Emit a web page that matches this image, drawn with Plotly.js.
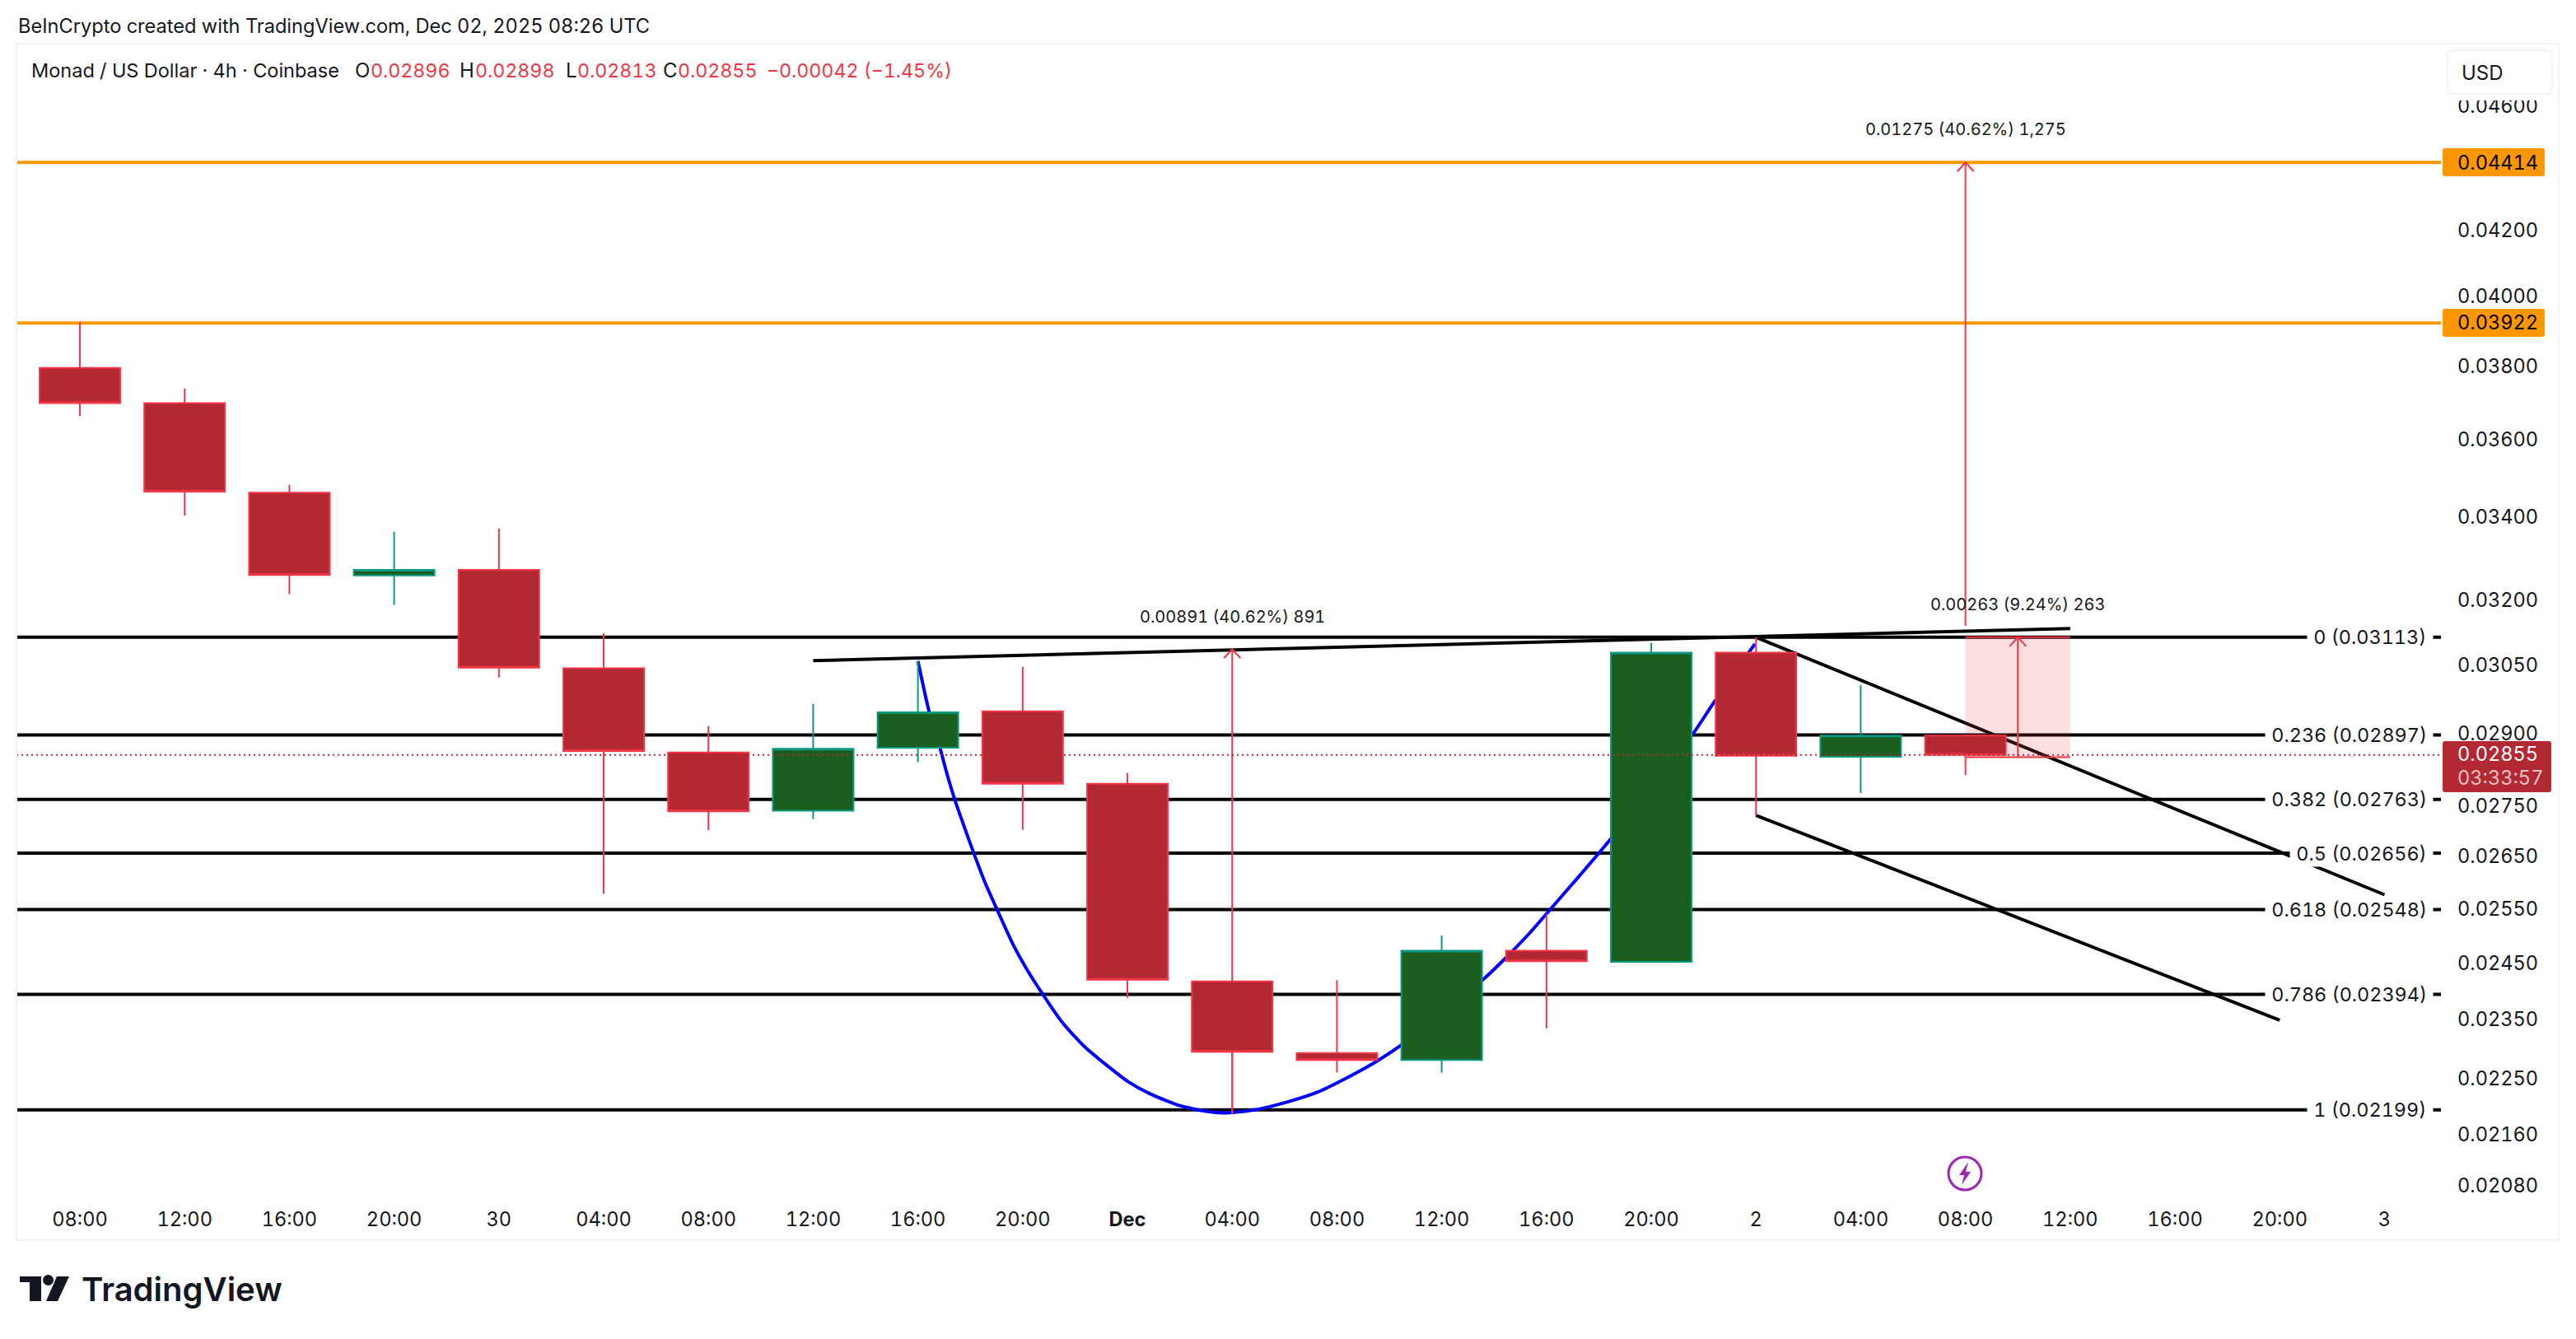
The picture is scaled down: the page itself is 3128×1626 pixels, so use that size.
<!DOCTYPE html>
<html><head><meta charset="utf-8">
<script src="https://cdn.plot.ly/plotly-3.0.1.min.js"></script>
<style>html,body{margin:0;padding:0;background:#fff}#c{width:3128px;height:1626px}svg text{font-variant-numeric:tabular-nums;font-feature-settings:"tnum"}</style>
</head><body><div id="c"></div>
<script>
// ---------- data ----------
const barIndex = [0,1,2,3,4,5,6,7,8,9,10,11,12,13,14,15,16,17,18];
const openP  = [.03795,.03698,.03462,.03258,.03271,.03043,.02860,.02740,.02870,.02948,.02795,.02417,.02293,.02281,.02472,.02452,.03078,.02851,.02896];
const highP  = [.03925,.03738,.03482,.03364,.03372,.03122,.02916,.02964,.03059,.03046,.02817,.02417,.02419,.02500,.02540,.03100,.03113,.03005,.02898];
const lowP   = [.03663,.03404,.03213,.03188,.03022,.02578,.02701,.02723,.02840,.02702,.02388,.02193,.02260,.02260,.02335,.02452,.02731,.02776,.02813];
const closeP = [.03698,.03465,.03259,.03271,.03044,.02863,.02739,.02868,.02946,.02795,.02420,.02295,.02281,.02472,.02453,.03078,.02853,.02896,.02855];

const timeTickIndex = [0,1,2,3,4,5,6,7,8,9,10,11,12,13,14,15,16,17,18,19,20,21,22];
const timeTickLabels = ['08:00','12:00','16:00','20:00','30','04:00','08:00','12:00','16:00','20:00','<b>Dec</b>','04:00','08:00','12:00','16:00','20:00','2','04:00','08:00','12:00','16:00','20:00','3'];
const priceTickValues = [.046,.042,.040,.038,.036,.034,.032,.0305,.029,.0275,.0265,.0255,.0245,.0235,.0225,.0216,.0208];
const priceTickLabels = ['0.04600','0.04200','0.04000','0.03800','0.03600','0.03400','0.03200','0.03050','0.02900','0.02750','0.02650','0.02550','0.02450','0.02350','0.02250','0.02160','0.02080'];

const resistanceLevels = [0.04414, 0.03922];
const fibPrices = [0.03113,0.02897,0.02763,0.02656,0.02548,0.02394,0.02199];
const fibLabels = ['0 (0.03113)','0.236 (0.02897)','0.382 (0.02763)','0.5 (0.02656)','0.618 (0.02548)','0.786 (0.02394)','1 (0.02199)'];
const lastPrice = 0.02855;

const curveIndex = [8.0,8.105,8.208,8.278,8.362,8.449,8.535,8.645,8.758,8.907,9.038,9.196,9.379,9.589,9.798,10.008,10.218,10.480,10.742,10.951,11.213,11.528,11.816,12.078,12.340,12.602,13.388,13.611,13.847,14.044,14.306,14.594,15.388,15.595,15.99];
const curvePrice = [.03059,.02949,.02872,.02815,.02756,.02704,.02655,.02597,.02547,.02484,.02439,.02393,.02345,.02304,.02273,.02245,.02225,.02207,.02197,.02194,.02199,.02212,.02228,.02250,.02275,.02305,.02419,.02459,.02506,.02550,.02610,.02679,.02896,.02966,.03098];

const trendLines = [
  {x:[7,19],  y:[.03060,.03133]},
  {x:[16,22], y:[.03113,.02576]},
  {x:[16,21], y:[.02731,.02349]}
];
const measureA = {x:[11,11], y:[.02193,.03086], text:'0.00891 (40.62%) 891'};
const measureB = {x:[18,18], y:[.03139,.04414], text:'0.01275 (40.62%) 1,275'};
const measureC = {x:[18.5,18.5], y:[.02850,.03113], text:'0.00263 (9.24%) 263'};
const boxX = [18,19], boxTop = 0.03113, boxBottom = 0.02850;

// ---------- layout constants ----------
const L=20,R=2964,T=54,B=1460;
const X=p=>(p-L)/(R-L), Y=p=>(B-p)/(B-T);
const xRange=[-0.6053,22.539];
const yRange=[Math.log10(0.02199*Math.exp(-112.2/1651.3)),Math.log10(0.02199*Math.exp(1293.8/1651.3))];
const INK='#131722',RED='#f23645',BODYR='#b22833',GRN='#089981',BODYG='#1b5e20',ORG='#ff9800',FONT='Inter';
const lg=Math.log10;

// ---------- traces ----------
const line=(x,y,color,width,extra)=>Object.assign({type:'scatter',mode:'lines',x,y,line:Object.assign({color,width},extra||{}),hoverinfo:'skip',showlegend:false,zorder:0});
const traces=[];
resistanceLevels.forEach(v=>traces.push(line(xRange,[v,v],ORG,4)));
fibPrices.forEach(v=>traces.push(line(xRange,[v,v],'#000',4)));
traces.push(line(curveIndex,curvePrice,'#0000ff',4,{shape:'spline',smoothing:0.6}));
trendLines.forEach(t=>traces.push(line(t.x,t.y,'#000',4)));
traces.push(Object.assign(line([boxX[0],boxX[1],boxX[1],boxX[0],boxX[0]],[boxBottom,boxBottom,boxTop,boxTop,boxBottom],'rgba(0,0,0,0)',0),{fill:'toself',fillcolor:'rgba(242,54,69,0.16)'}));
traces.push(line(boxX,[boxTop,boxTop],RED,2));
traces.push(line(boxX,[boxBottom,boxBottom],RED,2));
[measureA,measureB,measureC].forEach(m=>traces.push(line(m.x,m.y,RED,2)));
traces.push({type:'candlestick',x:barIndex,open:openP,high:highP,low:lowP,close:closeP,
  increasing:{line:{color:GRN,width:2},fillcolor:BODYG},
  decreasing:{line:{color:RED,width:2},fillcolor:BODYR},
  whiskerwidth:0,hoverinfo:'skip',showlegend:false,zorder:2});
traces.push(Object.assign(line(xRange,[lastPrice,lastPrice],BODYR,2,{dash:'2px,4px'}),{zorder:3}));

// ---------- helpers for furniture ----------
function roundRect(x0,y0,x1,y1,r,fill,stroke){
  const q=`M${X(x0+r)},${Y(y0)} L${X(x1-r)},${Y(y0)} Q${X(x1)},${Y(y0)} ${X(x1)},${Y(y0+r)} L${X(x1)},${Y(y1-r)} Q${X(x1)},${Y(y1)} ${X(x1-r)},${Y(y1)} L${X(x0+r)},${Y(y1)} Q${X(x0)},${Y(y1)} ${X(x0)},${Y(y1-r)} L${X(x0)},${Y(y0+r)} Q${X(x0)},${Y(y0)} ${X(x0+r)},${Y(y0)} Z`;
  return {type:'path',xref:'paper',yref:'paper',path:q,fillcolor:fill,line:{color:stroke||'rgba(0,0,0,0)',width:stroke?2:0},layer:'above'};
}
function rect(x0,y0,x1,y1,fill,stroke,w){
  return {type:'rect',xref:'paper',yref:'paper',x0:X(x0),x1:X(x1),y0:Y(y0),y1:Y(y1),fillcolor:fill,line:{color:stroke||'rgba(0,0,0,0)',width:stroke?(w||2):0},layer:'above'};
}
function poly(pts,fill){
  return {type:'path',xref:'paper',yref:'paper',path:'M'+pts.map(p=>X(p[0])+','+Y(p[1])).join(' L')+' Z',fillcolor:fill,line:{width:0},layer:'above'};
}
function chevron(x,y){
  return {type:'path',xref:'x',yref:'y',xsizemode:'pixel',ysizemode:'pixel',xanchor:x,yanchor:y,path:'M-10,-11 L0,0 L10,-11',fillcolor:'rgba(0,0,0,0)',line:{color:RED,width:2},layer:'above'};
}
const shapes=[
  rect(20,53,3107,1506,'rgba(0,0,0,0)','#f2f3f5',2),
  rect(2970,110,3100,122,'#fff'),
  roundRect(2972,61,3099,114,8,'#fff','#f0f3fa'),
  roundRect(2966,180,3090,214,3,ORG),
  roundRect(2966,375,3090,409,3,ORG),
  roundRect(2966,900,3098,962,3,BODYR),
  chevron(measureA.x[1],measureA.y[1]),
  chevron(measureB.x[1],measureB.y[1]),
  chevron(measureC.x[1],measureC.y[1]),
  {type:'circle',xref:'paper',yref:'paper',x0:X(2366),x1:X(2406),y0:Y(1445),y1:Y(1405),fillcolor:'rgba(0,0,0,0)',line:{color:'#9c27b0',width:3},layer:'above'},
  poly([[2390,1411],[2379,1427],[2385,1427],[2382,1439],[2393,1423],[2387,1423]],'#9c27b0'),
  poly([[24,1550],[50,1550],[50,1580],[36,1580],[36,1557],[24,1557]],'#131722'),
  {type:'circle',xref:'paper',yref:'paper',x0:X(52),x1:X(65),y0:Y(1561),y1:Y(1548),fillcolor:'#131722',line:{width:0},layer:'above'},
  poly([[69,1550],[84,1550],[70,1580],[56,1580]],'#131722')
];

const ann=(text,px,py,size,color,anchor,extra)=>Object.assign({text,xref:'paper',yref:'paper',x:X(px),y:Y(py),xanchor:anchor||'left',yanchor:'middle',showarrow:false,borderpad:0,font:{family:FONT,size:size||24,color:color||INK}},extra||{});
const annotations=[
  ann('BeInCrypto created with TradingView.com, Dec 02, 2025 08:26 UTC',21,31.5,23.6),
  ann('Monad / US Dollar · 4h · Coinbase',37,86,23.5),
  ann('O',430,86,24), ann('0.02896',449,86,23.2,RED),
  ann('H',557,86,24), ann('0.02898',576,86,23.2,RED),
  ann('L',686,86,24), ann('0.02813',700,86,23.2,RED),
  ann('C',804,86,24), ann('0.02855',822,86,23.2,RED),
  ann('\u22120.00042 (\u22121.45%)',930,86,23.2,RED),
  ann('USD',2988,88,24),
  ann('0.04414',2983,197,23.6,'#000'),
  ann('0.03922',2983,392,23.6,'#000'),
  ann('0.02855',2983,916,23.6,'#fff'),
  ann('03:33:57',2983,944,23.6,'rgba(255,255,255,0.72)'),
  ann('TradingView',98,1565,40,'#131722','left',{font:{family:FONT,size:40,color:'#131722',weight:600}})
];
fibLabels.forEach((t,i)=>annotations.push({text:'\u00a0'+t+'\u00a0',xref:'paper',yref:'y',x:X(2955),y:lg(fibPrices[i]),xanchor:'right',yanchor:'middle',showarrow:false,bgcolor:'#fff',borderpad:1,font:{family:FONT,size:23.4,color:INK}}));
[[measureA,749],[measureB,157],[measureC,734]].forEach(([m,py])=>annotations.push({text:m.text,xref:'x',yref:'paper',x:m.x[0],y:Y(py),xanchor:'center',yanchor:'middle',showarrow:false,borderpad:0,font:{family:FONT,size:20,color:INK}}));

const layout={
  width:3128,height:1626,paper_bgcolor:'#fff',plot_bgcolor:'#fff',
  margin:{l:L,r:3128-R,t:T,b:1626-B,autoexpand:false},
  showlegend:false,boxgap:0.23,boxgroupgap:0,hovermode:false,dragmode:false,
  font:{family:FONT,size:24,color:INK},
  xaxis:{type:'linear',range:xRange,tickmode:'array',tickvals:timeTickIndex,ticktext:timeTickLabels,showgrid:false,zeroline:false,showline:false,ticks:'',ticklabelstandoff:4,tickangle:0,tickfont:{family:FONT,size:23.6,color:INK},rangeslider:{visible:false},fixedrange:true},
  yaxis:{type:'log',range:yRange,side:'right',tickmode:'array',tickvals:priceTickValues,ticktext:priceTickLabels,showgrid:false,zeroline:false,showline:false,ticks:'',ticklabelstandoff:19,tickfont:{family:FONT,size:23.6,color:INK},fixedrange:true},
  shapes,annotations
};
Plotly.newPlot('c',traces,layout,{displayModeBar:false,responsive:false,staticPlot:true});
</script></body></html>
